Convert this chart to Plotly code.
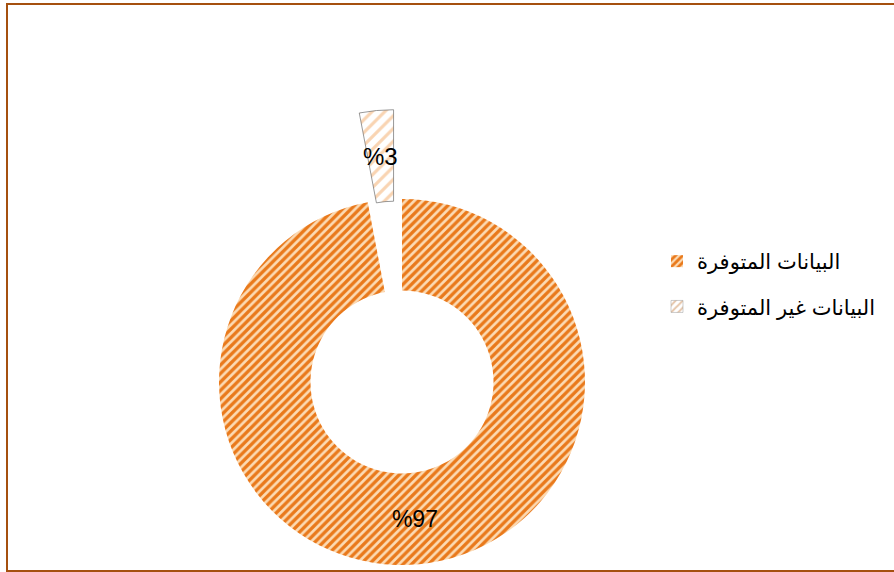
import math
import plotly.graph_objects as go

# ---- data ----
labels = ["البيانات المتوفرة", "البيانات غير المتوفرة"]
values = [97, 3]
text_labels = ["%97", "%3"]

# ---- style / layout params ----
W, H = 894, 572
cx, cy, R = 402, 382, 183       # donut centre / radius in px
HOLE = 0.5
PULL = 0.49                     # pulled-slice offset as fraction of radius
ORANGE_FG, ORANGE_BG = "#E9791B", "#FCDBB4"
LIGHT_FG, LIGHT_BG = "#F9D4B2", "#FFFFFF"
CLEAR = "rgba(0,0,0,0)"
FONT = "Arial, 'Liberation Sans', 'DejaVu Sans', sans-serif"


def domain(px_x, px_y, r):
    return dict(x=[(px_x - r) / W, (px_x + r) / W],
                y=[1 - (px_y + r) / H, 1 - (px_y - r) / H])


total = sum(values)
mid_angle = math.radians(360 * (values[0] + values[1] / 2) / total)  # clockwise from 12 o'clock
dx = PULL * R * math.sin(mid_angle)
dy = PULL * R * math.cos(mid_angle)
pcx, pcy = cx + dx, cy - dy
r_mid = (R + R * HOLE) / 2

fig = go.Figure()

# legend-only traces (tiny, hidden inside the orange ring)
leg_styles = [
    dict(colors=[ORANGE_BG], pattern=dict(shape="/", fgcolor=ORANGE_FG, bgcolor=ORANGE_BG, size=5, solidity=0.55),
         line=dict(width=0)),
    dict(colors=[LIGHT_BG], pattern=dict(shape="/", fgcolor="#E6C6AA", bgcolor="#FFFFFF", size=5, solidity=0.4),
         line=dict(color="#9a9a9a", width=0.5)),
]
hx, hy = (cx - R + 15) / W, 1 - cy / H
for i, lab in enumerate(labels):
    fig.add_trace(go.Pie(
        labels=[lab], values=[values[i]], textinfo="none", hoverinfo="skip",
        domain=dict(x=[hx, hx + 0.0004], y=[hy, hy + 0.0004]),
        marker=leg_styles[i], legendgroup=f"g{i}", showlegend=True, sort=False,
    ))

# main donut (97% visible, 3% gap)
fig.add_trace(go.Pie(
    labels=labels, values=values, text=text_labels, textinfo="text",
    textposition=["inside", "none"], insidetextorientation="horizontal",
    hole=HOLE, sort=False, direction="clockwise", rotation=0,
    domain=domain(cx, cy, R), showlegend=False,
    marker=dict(colors=[ORANGE_BG, CLEAR],
                pattern=dict(shape=["/", ""], fgcolor=[ORANGE_FG, CLEAR], bgcolor=[ORANGE_BG, CLEAR],
                             size=6, solidity=0.55),
                line=dict(width=0)),
    textfont=dict(size=23, color="#000000", family=FONT),
))

# pulled-out 3% slice
fig.add_trace(go.Pie(
    labels=labels, values=values, textinfo="none",
    hole=HOLE, sort=False, direction="clockwise", rotation=0,
    domain=domain(pcx, pcy, R), showlegend=False,
    marker=dict(colors=[CLEAR, LIGHT_BG],
                pattern=dict(shape=["", "/"], fgcolor=[CLEAR, LIGHT_FG], bgcolor=[CLEAR, LIGHT_BG],
                             size=9, solidity=0.35),
                line=dict(width=[0, 1], color=[CLEAR, "rgba(110,110,110,0.7)"])),
))

# label for the pulled slice, placed at its ring mid-radius
tx = pcx + r_mid * math.sin(mid_angle)
ty = pcy - r_mid * math.cos(mid_angle)

fig.update_layout(
    width=W, height=H,
    margin=dict(l=0, r=0, t=0, b=0),
    paper_bgcolor="white", plot_bgcolor="white",
    font=dict(family=FONT, size=21, color="#000000"),
    legend=dict(x=(697 - 40) / W, xanchor="left", y=1 - 241 / H, yanchor="top",
                traceorder="grouped", tracegroupgap=15,
                font=dict(size=21, family=FONT, color="#000000"),
                bgcolor="rgba(0,0,0,0)"),
    annotations=[dict(text=text_labels[1], x=tx / W, y=1 - ty / H, xref="paper", yref="paper",
                      xanchor="center", yanchor="middle", showarrow=False,
                      font=dict(size=24, color="#000000", family=FONT))],
    shapes=[dict(type="rect", xref="paper", yref="paper",
                 x0=7 / W, x1=1.02, y0=1 - 571 / H, y1=1 - 4 / H,
                 line=dict(color="#A5500F", width=2), fillcolor="rgba(0,0,0,0)", layer="above")],
)

fig.write_html("out.html", config={"displayModeBar": False},
               post_script="document.body.style.margin='0';")
